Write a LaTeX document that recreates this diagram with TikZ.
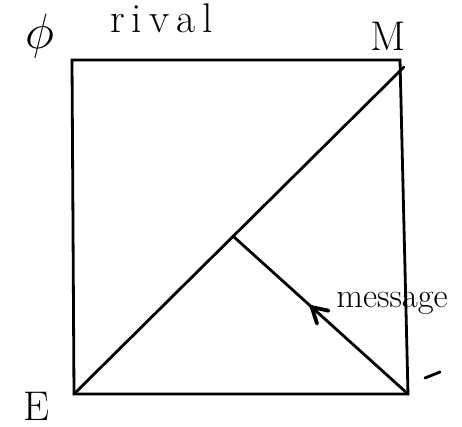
\documentclass[tikz,border=0pt]{standalone}
\usepackage{tikz}
\usetikzlibrary{arrows, positioning, calc, decorations.markings}
\tikzstyle{edge} = [line width=1.4pt, line cap=round]
\tikzstyle{lbl} = [inner sep=0pt, font=\LARGE]
\tikzstyle{midtip} = [decoration={markings, mark=at position 0.57 with {\arrow[line width=1.2pt, scale=1.6]{angle 60}}}, postaction={decorate}]

\begin{document}
\begin{tikzpicture}[x=0.5pt, y=-0.5pt]
    \useasboundingbox (0,0) rectangle (462,427);
    % Corners
    \coordinate (P) at (72,60);
    \coordinate (R) at (400,60);
    \coordinate (E) at (74,394);
    \coordinate (Q) at (408,394);
    \coordinate (F) at (234,237);

    % Labels
    \node (phi) [lbl, font=\Huge] at (40,36) {$\phi$};
    \node (rival) [lbl, font=\huge, anchor=west] at (110,18) {r\,i\,v\,a\,l};
    \node (m) [lbl, font=\huge] at (388,36) {M};
    \node (e) [lbl, font=\huge] at (37,406) {E};
    \node (msg) [lbl, font=\LARGE, anchor=west] at (336,303) {message};

    % Square and lines
    \draw [edge] (P) -- (R) -- (Q) -- (E) -- cycle;
    \draw [edge] (E) -- (404,67);
    \draw [edge, midtip] (Q) -- (F);
    \draw [edge] (425,378) -- (440,372);
\end{tikzpicture}
\end{document}
